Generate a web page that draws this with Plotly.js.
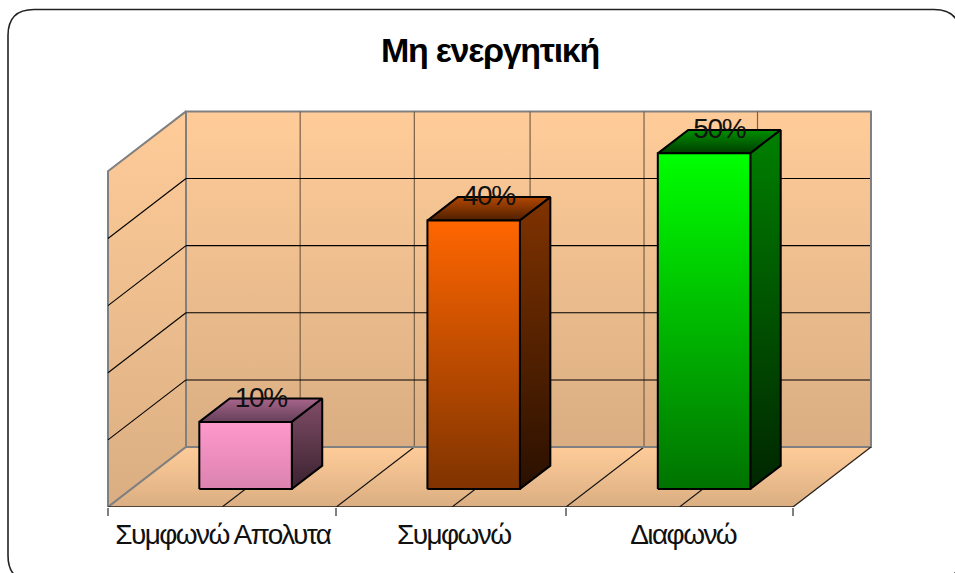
<!DOCTYPE html>
<html><head><meta charset="utf-8">
<script src="https://cdn.plot.ly/plotly-3.0.1.min.js"></script>
<style>
html,body{margin:0;padding:0;background:#fff;overflow:hidden}
#chart{width:955px;height:573px}
.xtick text{letter-spacing:-1.6px}
.gtitle{letter-spacing:-1.3px}
.textpoint text{letter-spacing:-1.3px}
</style></head><body><div id="chart"></div>
<script>
const categories = ["Συμφωνώ Απολυτα", "Συμφωνώ", "Διαφωνώ"];
const values = [10, 40, 50];
const valueLabels = ["10%", "40%", "50%"];
const gridValues = [10, 20, 30, 40];
const axisMax = 50;
const slotEdges = [0, 0.9985, 2.0056, 3];
const gridSlots = [0.5, 1, 1.507, 2.006, 2.503];
const barCenters = [0.5, 1.499, 2.508];
const labelCenters = [0.503, 1.514, 2.519];
const titleText = "Μη ενεργητική";

const frontTop = ["#FF99CC", "#FF6600", "#00FF00"];
const frontBottom = ["#DB83AF", "#7F3300", "#007300"];
const sideTop = ["#804D66", "#803300", "#008000"];
const sideBottom = ["#3A2230", "#2A1000", "#002600"];
const capBack = ["#A8658A", "#B34700", "#008F00"];
const capFront = ["#64405A", "#4D1F00", "#003D00"];

const W = 955, H = 573, LEFT = 108, FRONT_Y = 507.5;
const SLOT = 228.33, UNIT = 6.72, DX = 78 / SLOT, DY = 60 / UNIT;
const X = (u, d) => u + d * DX;
const Y = (v, d) => v - DY * (1 - d);
const BAR_D0 = 0.3, BAR_D1 = 0.69, BAR_W = 92.5 / SLOT;

const traces = [];
function poly(pts, top, bottom, lineColor, lineWidth) {
  const ys = pts.map(p => p[1]);
  traces.push({
    x: pts.map(p => p[0]).concat(pts[0][0]), y: ys.concat(pts[0][1]),
    mode: "lines", fill: "toself", hoverinfo: "skip", showlegend: false,
    line: {color: lineColor, width: lineWidth},
    fillgradient: {type: "vertical", start: Math.min(...ys), stop: Math.max(...ys),
      colorscale: [[0, bottom], [1, top]]}
  });
}
function lines(segs, color, width) {
  const x = [], y = [];
  segs.forEach(s => { s.forEach(p => { x.push(p[0]); y.push(p[1]); }); x.push(null); y.push(null); });
  traces.push({x, y, mode: "lines", hoverinfo: "skip", showlegend: false, line: {color, width}});
}
const WALL_TOP = "#FFCC99", WALL_BOTTOM = "#DAAE82", EDGE = "#808080";
const XMAX = 3;
poly([[X(0,0),Y(0,0)],[X(0,1),Y(0,1)],[X(0,1),Y(axisMax,1)],[X(0,0),Y(axisMax,0)]], WALL_TOP, WALL_BOTTOM, EDGE, 2);
poly([[X(0,1),Y(0,1)],[X(XMAX,1),Y(0,1)],[X(XMAX,1),Y(axisMax,1)],[X(0,1),Y(axisMax,1)]], WALL_TOP, WALL_BOTTOM, EDGE, 2);
poly([[X(0,0),Y(0,0)],[X(XMAX,0),Y(0,0)],[X(XMAX,1),Y(0,1)],[X(0,1),Y(0,1)]], WALL_TOP, WALL_BOTTOM, EDGE, 0);
lines(gridSlots.map(u => [[X(u,1),Y(0,1)],[X(u,1),Y(axisMax,1)]]), "#7A6048", 1.2);
lines(gridValues.map(v => [[X(0,1),Y(v,1)],[X(XMAX,1),Y(v,1)]]), "#000", 1.1);
lines(gridValues.map(v => [[X(0,0),Y(v,0)],[X(0,1),Y(v,1)]]), "#000", 1.1);
lines(gridSlots.map(u => [[X(u,0),Y(0,0)],[X(u,1),Y(0,1)]]), "#111", 1.1);
lines([[[X(0,0),Y(0,0)],[X(0,1),Y(0,1)]], [[X(0,1),Y(0,1)],[X(XMAX,1),Y(0,1)]]], EDGE, 2);
lines([[[X(XMAX,0),Y(0,0)],[X(XMAX,1),Y(0,1)]], [[X(0,0),Y(0,0)],[X(XMAX,0),Y(0,0)]]], "#2a2018", 1.3);
lines([[[X(XMAX,1),Y(0,1)],[X(XMAX,1),Y(axisMax,1)]]], EDGE, 2);
values.forEach((v, i) => {
  const a = barCenters[i] - BAR_W / 2, b = barCenters[i] + BAR_W / 2;
  poly([[X(a,BAR_D0),Y(v,BAR_D0)],[X(b,BAR_D0),Y(v,BAR_D0)],[X(b,BAR_D1),Y(v,BAR_D1)],[X(a,BAR_D1),Y(v,BAR_D1)]], capBack[i], capFront[i], "#000", 2);
  poly([[X(b,BAR_D0),Y(0,BAR_D0)],[X(b,BAR_D1),Y(0,BAR_D1)],[X(b,BAR_D1),Y(v,BAR_D1)],[X(b,BAR_D0),Y(v,BAR_D0)]], sideTop[i], sideBottom[i], "#000", 2);
  poly([[X(a,BAR_D0),Y(0,BAR_D0)],[X(b,BAR_D0),Y(0,BAR_D0)],[X(b,BAR_D0),Y(v,BAR_D0)],[X(a,BAR_D0),Y(v,BAR_D0)]], frontTop[i], frontBottom[i], "#000", 2);
});
traces.push({
  x: values.map((v, i) => X(barCenters[i], (BAR_D0 + BAR_D1) / 2)),
  y: values.map(v => Y(v, BAR_D1) - 0.2),
  text: valueLabels, mode: "text", textposition: "middle center", cliponaxis: false,
  textfont: {family: "Liberation Sans", size: 28, color: "#111"},
  hoverinfo: "skip", showlegend: false
});

const px = x => x / W;
const py = y => (FRONT_Y - y) / FRONT_Y;
const L = 8, T = 9.5, R = 960, B = 582, RAD = 26;
const border = `M ${px(L)} ${py(T + RAD)} Q ${px(L)} ${py(T)} ${px(L + RAD)} ${py(T)} L ${px(R - RAD)} ${py(T)} Q ${px(R)} ${py(T)} ${px(R)} ${py(T + RAD)} L ${px(R)} ${py(B - RAD)} Q ${px(R)} ${py(B)} ${px(R - RAD)} ${py(B)} L ${px(L + RAD)} ${py(B)} Q ${px(L)} ${py(B)} ${px(L)} ${py(B - RAD)} Z`;

const layout = {
  width: W, height: H, paper_bgcolor: "#fff", plot_bgcolor: "rgba(0,0,0,0)",
  margin: {l: 0, r: 0, t: 0, b: H - FRONT_Y, pad: 0}, showlegend: false,
  title: {text: titleText, x: 490 / W, xanchor: "center", y: 1 - 50 / H, yanchor: "middle",
    font: {family: "Liberation Sans", size: 34, color: "#000", weight: "bold"}},
  xaxis: {range: [-LEFT / SLOT, (W - LEFT) / SLOT], showgrid: false, zeroline: false, showline: false,
    tickmode: "array", tickvals: labelCenters, ticktext: categories, ticks: "",
    ticklabelstandoff: 8, tickfont: {family: "Liberation Sans", size: 28, color: "#111"},
    minor: {tickmode: "array", tickvals: slotEdges, ticks: "outside", ticklen: 8, tickcolor: "#808080", tickwidth: 1.5, showgrid: false}},
  yaxis: {range: [-DY, FRONT_Y / UNIT - DY], visible: false},
  shapes: [{type: "path", xref: "paper", yref: "paper", path: border, line: {color: "#222", width: 1.6}, fillcolor: "rgba(0,0,0,0)", layer: "above"}]
};
Plotly.newPlot("chart", traces, layout, {staticPlot: true, displayModeBar: false});
</script></body></html>
